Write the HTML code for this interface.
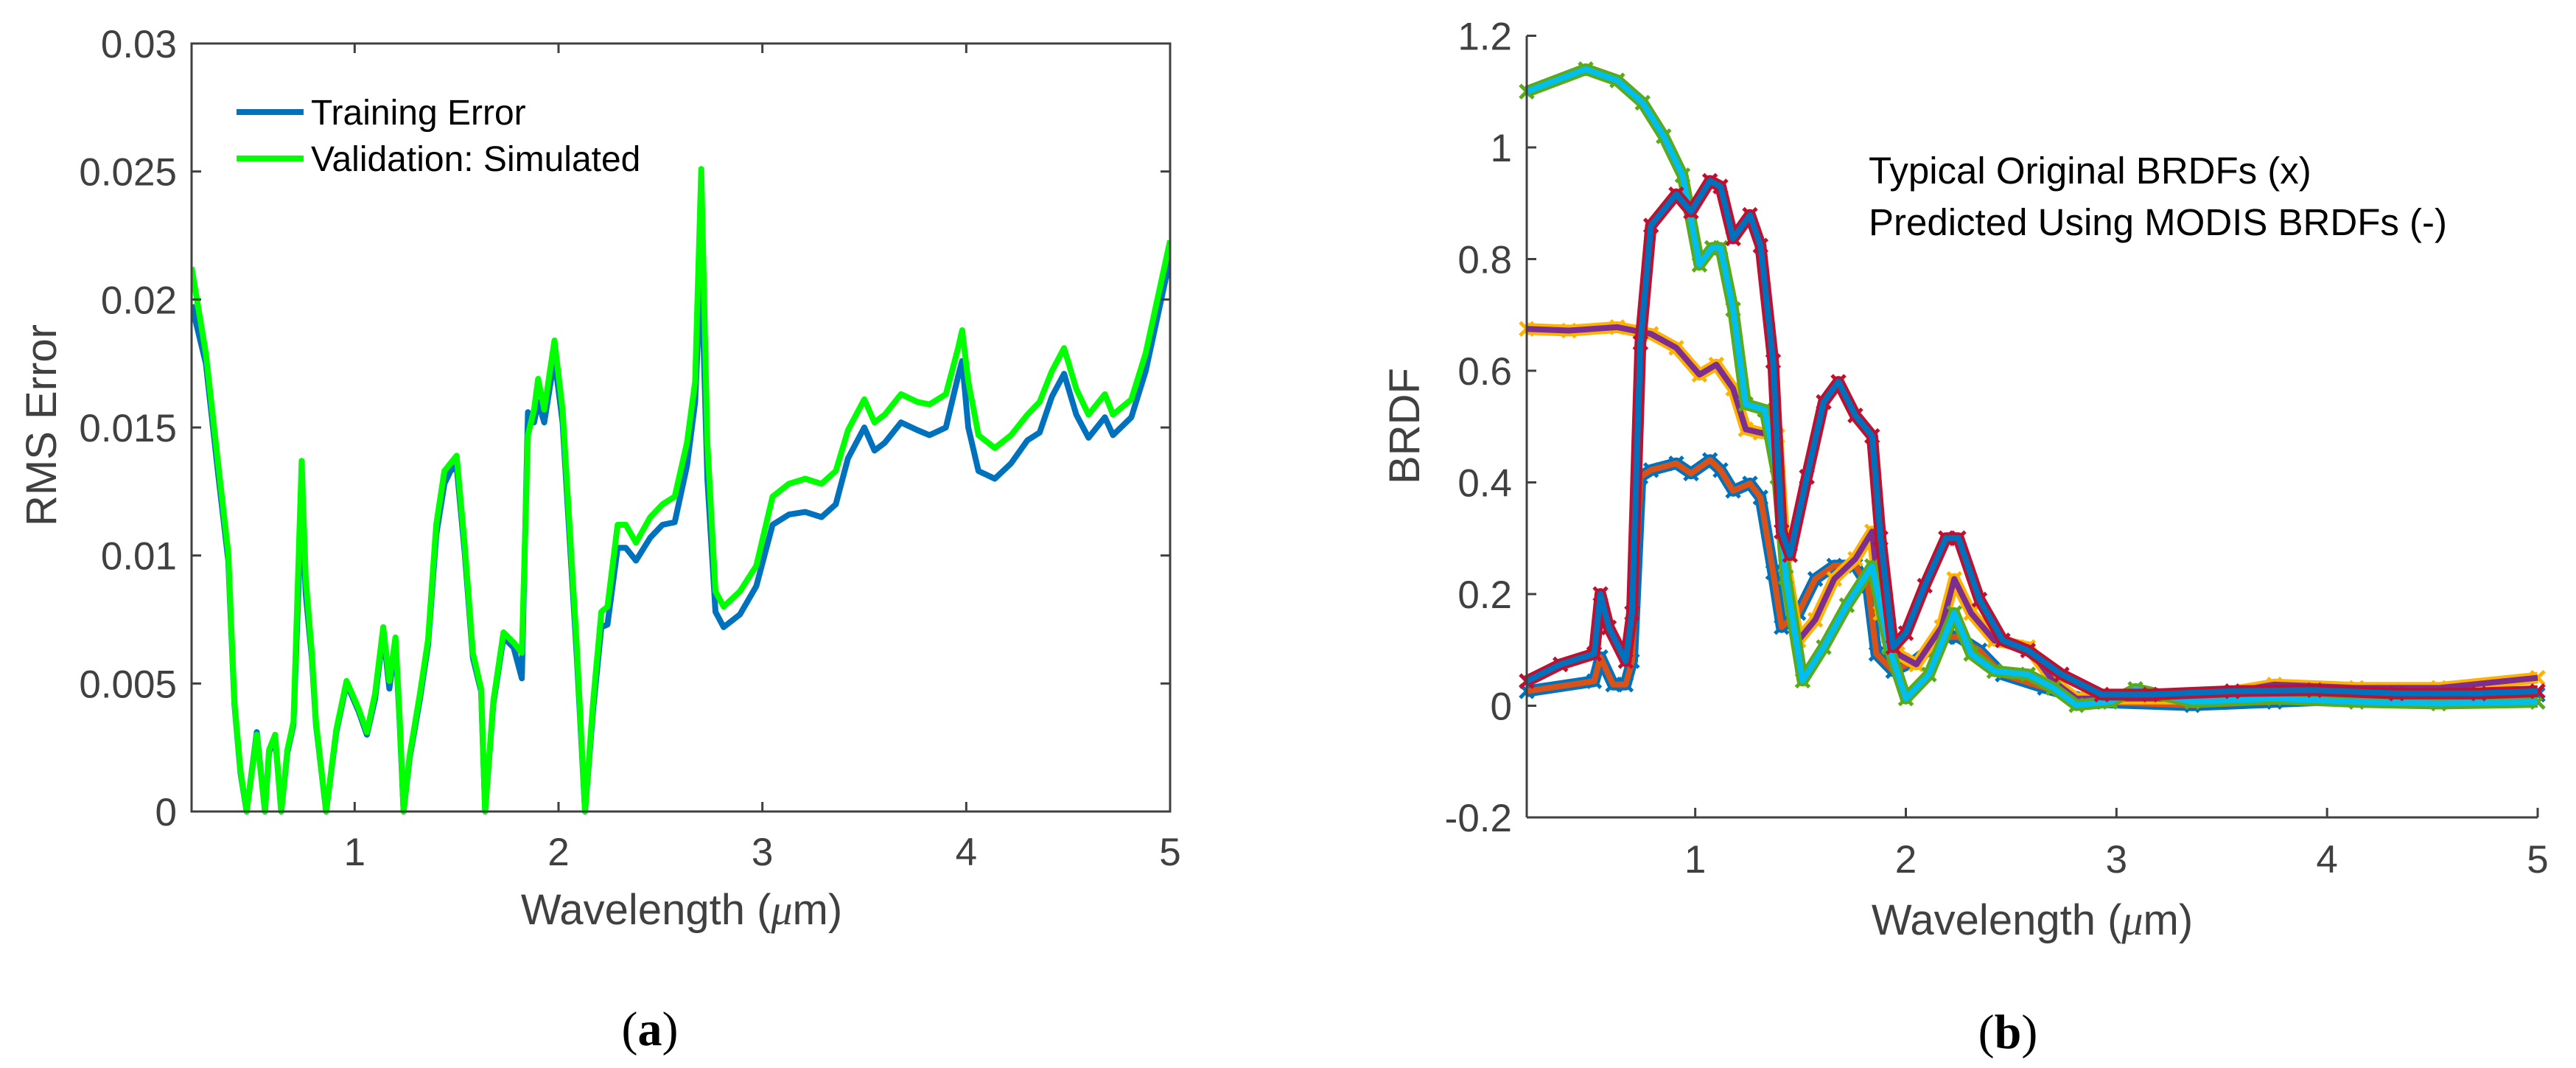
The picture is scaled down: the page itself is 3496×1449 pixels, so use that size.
<!DOCTYPE html>
<html><head><meta charset="utf-8"><style>
html,body{margin:0;padding:0;background:#fff;}
svg{display:block;font-family:"Liberation Sans",Arial,sans-serif;}
</style></head><body>
<svg id="fig" width="3496" height="1449" viewBox="0 0 3496 1449" xmlns="http://www.w3.org/2000/svg">
<g id="pa"></g>
<g id="pb"></g>
</svg>
<script>
// ---------- Panel (a) data ----------
const wlA = [0.2,0.27,0.33,0.38,0.41,0.44,0.47,0.52,0.56,0.58,0.61,0.64,0.67,0.70,0.74,0.76,0.79,0.81,0.86,0.91,0.96,1.02,1.06,1.10,1.14,1.17,1.20,1.22,1.24,1.27,1.32,1.36,1.40,1.44,1.47,1.50,1.54,1.58,1.62,1.64,1.68,1.73,1.78,1.82,1.85,1.88,1.90,1.93,1.98,2.02,2.09,2.13,2.17,2.21,2.24,2.29,2.33,2.38,2.45,2.51,2.57,2.63,2.67,2.70,2.73,2.77,2.81,2.89,2.97,3.05,3.13,3.21,3.29,3.36,3.42,3.50,3.55,3.60,3.68,3.76,3.82,3.90,3.96,3.98,4.01,4.06,4.14,4.22,4.30,4.36,4.42,4.48,4.54,4.60,4.68,4.72,4.81,4.88,5.0];
const validation = [0.02126,0.0179,0.0136,0.0101,0.0043,0.0016,0,0.003,0,0.0024,0.003,0,0.0024,0.0035,0.0137,0.0091,0.0062,0.0035,0,0.0032,0.0051,0.004,0.0031,0.0046,0.0072,0.0051,0.0068,0.0038,0,0.0022,0.0046,0.0067,0.0112,0.0133,0.0136,0.0139,0.0104,0.0062,0.0048,0,0.0043,0.007,0.0066,0.0062,0.0147,0.0157,0.0169,0.0157,0.0184,0.0157,0.0064,0,0.0043,0.0078,0.008,0.0112,0.0112,0.0105,0.0115,0.012,0.0123,0.0144,0.0168,0.0251,0.0144,0.0086,0.008,0.0086,0.0096,0.0123,0.0128,0.013,0.0128,0.0133,0.0149,0.0161,0.0152,0.0155,0.0163,0.016,0.0159,0.0163,0.0181,0.0188,0.0168,0.0147,0.0142,0.0147,0.0155,0.016,0.0172,0.0181,0.0165,0.0155,0.0163,0.0155,0.0161,0.0179,0.0223];
const training = [0.0198,0.0175,0.0132,0.0098,0.0042,0.0015,0,0.0031,0,0.0023,0.0029,0,0.0023,0.0034,0.0122,0.0085,0.006,0.0034,0,0.0031,0.005,0.0039,0.003,0.0044,0.007,0.0048,0.0066,0.0036,0,0.0021,0.0044,0.0065,0.0108,0.0128,0.0133,0.0135,0.0101,0.006,0.0047,0,0.0042,0.0068,0.0064,0.0052,0.0156,0.0152,0.016,0.0152,0.0177,0.0152,0.006,0,0.004,0.0072,0.0073,0.0103,0.0103,0.0098,0.0107,0.0112,0.0113,0.0135,0.016,0.0215,0.013,0.0078,0.0072,0.0077,0.0088,0.0112,0.0116,0.0117,0.0115,0.012,0.0138,0.015,0.0141,0.0144,0.0152,0.0149,0.0147,0.015,0.017,0.0176,0.015,0.0133,0.013,0.0136,0.0145,0.0148,0.0162,0.0171,0.0155,0.0146,0.0154,0.0147,0.0154,0.0172,0.0216];
const xTicksA = [1,2,3,4,5];
const yTicksA = [0,0.005,0.01,0.015,0.02,0.025,0.03];
const yTickLabelsA = ["0","0.005","0.01","0.015","0.02","0.025","0.03"];

// ---------- Panel (b) data ----------
const wlS1 = [0.2,0.48,0.63,0.75,0.85,0.94,1.02,1.08,1.12,1.18,1.24,1.33,1.39,1.43,1.51,1.61,1.72,1.84,1.92,2.0,2.11,2.23,2.31,2.42,2.58,2.70,2.81,2.97,3.09,3.36,3.75,4.14,4.53,5.0];
const brdfS1 = [1.10,1.14,1.12,1.08,1.02,0.95,0.79,0.82,0.82,0.71,0.54,0.53,0.41,0.23,0.045,0.105,0.18,0.25,0.105,0.013,0.056,0.166,0.093,0.062,0.056,0.032,0.001,0.007,0.03,0.007,0.013,0.007,0.004,0.007];
const wlS2 = [0.2,0.4,0.63,0.79,0.91,1.02,1.10,1.18,1.24,1.31,1.39,1.43,1.49,1.57,1.66,1.76,1.84,1.88,1.96,2.05,2.17,2.23,2.31,2.42,2.58,2.70,2.81,2.97,3.36,3.75,4.14,4.53,5.0];
const brdfS2 = [0.675,0.672,0.678,0.666,0.641,0.593,0.611,0.568,0.495,0.489,0.483,0.251,0.117,0.154,0.227,0.263,0.312,0.166,0.093,0.074,0.141,0.227,0.166,0.117,0.105,0.044,0.013,0.013,0.013,0.038,0.032,0.032,0.05];
const wlS3 = [0.2,0.36,0.52,0.55,0.59,0.67,0.70,0.74,0.79,0.91,0.98,1.07,1.12,1.18,1.26,1.31,1.37,1.41,1.45,1.53,1.61,1.68,1.76,1.84,1.88,1.94,2.0,2.09,2.19,2.25,2.35,2.46,2.58,2.74,2.93,3.16,3.55,3.94,4.33,4.72,5.0];
const brdfS3 = [0.044,0.074,0.093,0.2,0.14,0.08,0.166,0.65,0.86,0.916,0.885,0.94,0.93,0.837,0.879,0.824,0.617,0.312,0.27,0.41,0.544,0.58,0.52,0.483,0.3,0.105,0.13,0.215,0.3,0.3,0.19,0.117,0.099,0.056,0.02,0.02,0.026,0.028,0.022,0.022,0.026];
const wlS4 = [0.2,0.52,0.55,0.61,0.67,0.70,0.74,0.79,0.91,0.98,1.07,1.12,1.18,1.26,1.31,1.37,1.41,1.49,1.57,1.66,1.76,1.82,1.86,1.94,2.04,2.19,2.25,2.35,2.46,2.66,2.89,3.36,3.75,4.14,5.0];
const brdfS4 = [0.026,0.044,0.087,0.038,0.038,0.08,0.41,0.422,0.434,0.416,0.44,0.422,0.385,0.398,0.373,0.239,0.141,0.166,0.227,0.251,0.251,0.215,0.093,0.062,0.08,0.123,0.123,0.099,0.056,0.032,0.007,0.001,0.007,0.013,0.02];
const xTicksB = [1,2,3,4,5];
const yTicksB = [-0.2,0,0.2,0.4,0.6,0.8,1,1.2];
const yTickLabelsB = ["-0.2","0","0.2","0.4","0.6","0.8","1","1.2"];

const NS = "http://www.w3.org/2000/svg";
function mk(parent, tag, attrs, text){
  const e = document.createElementNS(NS, tag);
  for (const k in attrs) e.setAttribute(k, attrs[k]);
  if (text !== undefined) e.textContent = text;
  parent.appendChild(e);
  return e;
}

// ---------- Panel (a) ----------
(function(){
  const g = document.getElementById('pa');
  const L=260,R=1588,T=59,B=1101, xmin=0.2,xmax=5,ymin=0,ymax=0.03;
  const sx = v => L + (v-xmin)/(xmax-xmin)*(R-L);
  const sy = v => B - (v-ymin)/(ymax-ymin)*(B-T);
  const pts = (xs,ys) => xs.map((x,i)=>sx(x).toFixed(1)+','+sy(ys[i]).toFixed(1)).join(' ');
  const clip = mk(g,'clipPath',{id:'clipA'}); mk(clip,'rect',{x:L,y:T,width:R-L,height:B-T+4});
  let e;
  e = mk(g,'polyline',{points:pts(wlA,training),fill:'none',stroke:'#0072BD','stroke-width':8,'stroke-linejoin':'round','clip-path':'url(#clipA)'});
  
  
  e = mk(g,'polyline',{points:pts(wlA,validation),fill:'none',stroke:'#00FF00','stroke-width':8,'stroke-linejoin':'round','clip-path':'url(#clipA)'});
  
  
  e = mk(g,'rect',{x:L,y:T,width:R-L,height:B-T,fill:'none',stroke:'#404040','stroke-width':3});
  
  
  xTicksA.forEach(t=>{
    const x=sx(t);
    mk(g,'line',{x1:x,y1:B,x2:x,y2:B-13,stroke:'#404040','stroke-width':3});
    mk(g,'line',{x1:x,y1:T,x2:x,y2:T+13,stroke:'#404040','stroke-width':3});
    e = mk(g,'text',{x:x,y:B+73,'text-anchor':'middle','font-size':53,fill:'#404040'},String(t));
    
    
  });
  yTicksA.forEach((t,i)=>{
    const y=sy(t);
    mk(g,'line',{x1:L,y1:y,x2:L+13,y2:y,stroke:'#404040','stroke-width':3});
    mk(g,'line',{x1:R,y1:y,x2:R-13,y2:y,stroke:'#404040','stroke-width':3});
    e = mk(g,'text',{x:L-20,y:y+19,'text-anchor':'end','font-size':53,fill:'#404040'},yTickLabelsA[i]);
    
    
  });
  e = mk(g,'text',{x:925,y:1254,'text-anchor':'middle','font-size':58,fill:'#404040'});
  e.innerHTML = 'Wavelength (<tspan font-family="Liberation Serif" font-style="italic">μ</tspan>m)';
  
  
  e = mk(g,'text',{x:0,y:0,'text-anchor':'middle','font-size':58,fill:'#404040',transform:'translate(76,577) rotate(-90)'},'RMS Error');
  
  
  e = mk(g,'line',{x1:321,y1:152,x2:412,y2:152,stroke:'#0072BD','stroke-width':8});
  
  
  e = mk(g,'text',{x:422,y:169,'font-size':48,fill:'#000'},'Training Error');
  
  
  e = mk(g,'line',{x1:321,y1:215,x2:412,y2:215,stroke:'#00FF00','stroke-width':8});
  
  
  e = mk(g,'text',{x:422,y:232,'font-size':48,fill:'#000'},'Validation: Simulated');
  
  
  e = mk(g,'text',{x:882,y:1418,'text-anchor':'middle','font-size':66,'font-family':'Liberation Serif, serif',fill:'#000'});
  e.innerHTML = '(<tspan font-weight="bold">a</tspan>)';
  
  
})();

// ---------- Panel (b) ----------
(function(){
  const g = document.getElementById('pb');
  const L=2072,R=3444,B=1109, xmin=0.2,xmax=5,ymin=-0.2,ymax=1.2, per=151.5/0.2;
  const sx = v => L + (v-xmin)/(xmax-xmin)*(R-L);
  const sy = v => B - (v-ymin)*per;
  const pts = (xs,ys) => xs.map((x,i)=>sx(x).toFixed(1)+','+sy(ys[i]).toFixed(1)).join(' ');
  let e;
  const series = [
    [wlS4,brdfS4,'#0072BD','#D95319','s4'],
    [wlS2,brdfS2,'#FFB300','#7E2F8E','s2'],
    [wlS1,brdfS1,'#5AAA1A','#00BFEF','s1'],
    [wlS3,brdfS3,'#C0102F','#0072BD','s3']
  ];
  series.forEach(s=>{
    e = mk(g,'polyline',{points:pts(s[0],s[1]),fill:'none',stroke:s[2],'stroke-width':16,'stroke-linejoin':'round'});
    
    
    s[0].forEach((x,i)=>{
      const cx=sx(x), cy=sy(s[1][i]);
      const m = mk(g,'path',{d:`M${cx-9},${cy-9}L${cx+9},${cy+9}M${cx-9},${cy+9}L${cx+9},${cy-9}`,stroke:s[2],'stroke-width':5});
      
      
    });
    e = mk(g,'polyline',{points:pts(s[0],s[1]),fill:'none',stroke:s[3],'stroke-width':8,'stroke-linejoin':'round'});
    
    
  });
  const top = sy(1.2);
  e = mk(g,'line',{x1:L,y1:top,x2:L,y2:B,stroke:'#404040','stroke-width':3});
  
  
  e = mk(g,'line',{x1:L,y1:B,x2:R,y2:B,stroke:'#404040','stroke-width':3});
  
  
  xTicksB.forEach(t=>{
    const x=sx(t);
    mk(g,'line',{x1:x,y1:B,x2:x,y2:B-13,stroke:'#404040','stroke-width':3});
    e = mk(g,'text',{x:x,y:B+75,'text-anchor':'middle','font-size':53,fill:'#404040'},String(t));
    
    
  });
  yTicksB.forEach((t,i)=>{
    const y=sy(t);
    mk(g,'line',{x1:L,y1:y,x2:L+13,y2:y,stroke:'#404040','stroke-width':3});
    e = mk(g,'text',{x:L-20,y:y+19,'text-anchor':'end','font-size':53,fill:'#404040'},yTickLabelsB[i]);
    
    
  });
  e = mk(g,'text',{x:2758,y:1268,'text-anchor':'middle','font-size':58,fill:'#404040'});
  e.innerHTML = 'Wavelength (<tspan font-family="Liberation Serif" font-style="italic">μ</tspan>m)';
  
  
  e = mk(g,'text',{x:0,y:0,'text-anchor':'middle','font-size':58,fill:'#404040',transform:'translate(1926,578) rotate(-90)'},'BRDF');
  
  
  e = mk(g,'text',{x:2536,y:249,'font-size':51,fill:'#000'},'Typical Original BRDFs (x)');
  
  
  e = mk(g,'text',{x:2536,y:319,'font-size':51,fill:'#000'},'Predicted Using MODIS BRDFs (-)');
  
  
  e = mk(g,'text',{x:2725,y:1422,'text-anchor':'middle','font-size':66,'font-family':'Liberation Serif, serif',fill:'#000'});
  e.innerHTML = '(<tspan font-weight="bold">b</tspan>)';
  
  
})();
</script>
</body></html>
